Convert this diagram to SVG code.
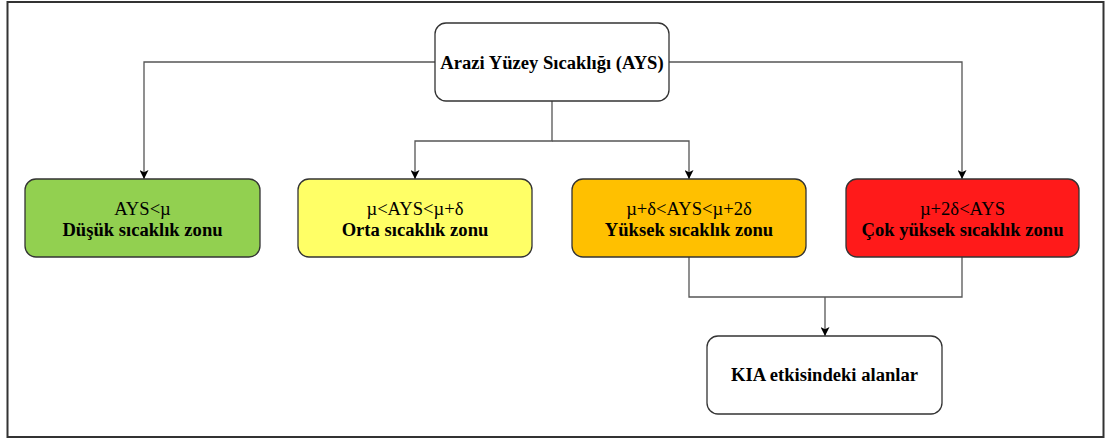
<svg xmlns="http://www.w3.org/2000/svg" width="1105" height="439" viewBox="0 0 1105 439">
<style>
.box{stroke:#333;stroke-width:1.3}
.conn{fill:none;stroke:#555;stroke-width:1.3}
text{font-family:"Liberation Serif","Times New Roman",serif;font-size:18.6px;fill:#000;text-anchor:middle}
.b{font-weight:bold}
</style>
<defs>
<marker id="arr" viewBox="0 0 10 10" refX="10" refY="5" markerWidth="9" markerHeight="9" markerUnits="userSpaceOnUse" orient="auto">
<path d="M0,0 L10,5 L0,10 L2.5,5 Z" fill="#000"/>
</marker>
</defs>
<rect x="7.5" y="2" width="1096" height="435" fill="#fff" stroke="#333" stroke-width="2"/>
<g id="connectors">
<path class="conn" d="M435,62 H144 V179" marker-end="url(#arr)"/>
<path class="conn" d="M669,62 H962 V179" marker-end="url(#arr)"/>
<path class="conn" d="M552,101 V141 H415 V179" marker-end="url(#arr)"/>
<path class="conn" d="M552,141 H689 V179" marker-end="url(#arr)"/>
<path class="conn" d="M689,257 V297 H962 V257"/>
<path class="conn" d="M825,297 V336" marker-end="url(#arr)"/>
</g>
<g id="ays">
<rect class="box" x="435" y="23" width="234" height="78" rx="11" fill="#fff"/>
<text class="b" x="552" y="69">Arazi Yüzey Sıcaklığı (AYS)</text>
</g>
<g id="dusuk">
<rect class="box" x="25" y="179" width="235" height="78" rx="11" fill="#92D050"/>
<text x="142.5" y="215">AYS&lt;µ</text>
<text class="b" x="142.5" y="236">Düşük sıcaklık zonu</text>
</g>
<g id="orta">
<rect class="box" x="298" y="179" width="234" height="78" rx="11" fill="#FFFF66"/>
<text x="415" y="215">µ&lt;AYS&lt;µ+δ</text>
<text class="b" x="415" y="236">Orta sıcaklık zonu</text>
</g>
<g id="yuksek">
<rect class="box" x="572" y="179" width="234" height="78" rx="11" fill="#FFC000"/>
<text x="689" y="215">µ+δ&lt;AYS&lt;µ+2δ</text>
<text class="b" x="689" y="236">Yüksek sıcaklık zonu</text>
</g>
<g id="cokyuksek">
<rect class="box" x="846" y="179" width="233" height="78" rx="11" fill="#FF1A1A"/>
<text x="962.5" y="215">µ+2δ&lt;AYS</text>
<text class="b" x="962.5" y="236">Çok yüksek sıcaklık zonu</text>
</g>
<g id="kia">
<rect class="box" x="707" y="336" width="235" height="78" rx="11" fill="#fff"/>
<text class="b" x="824.5" y="381">KIA etkisindeki alanlar</text>
</g>
</svg>
